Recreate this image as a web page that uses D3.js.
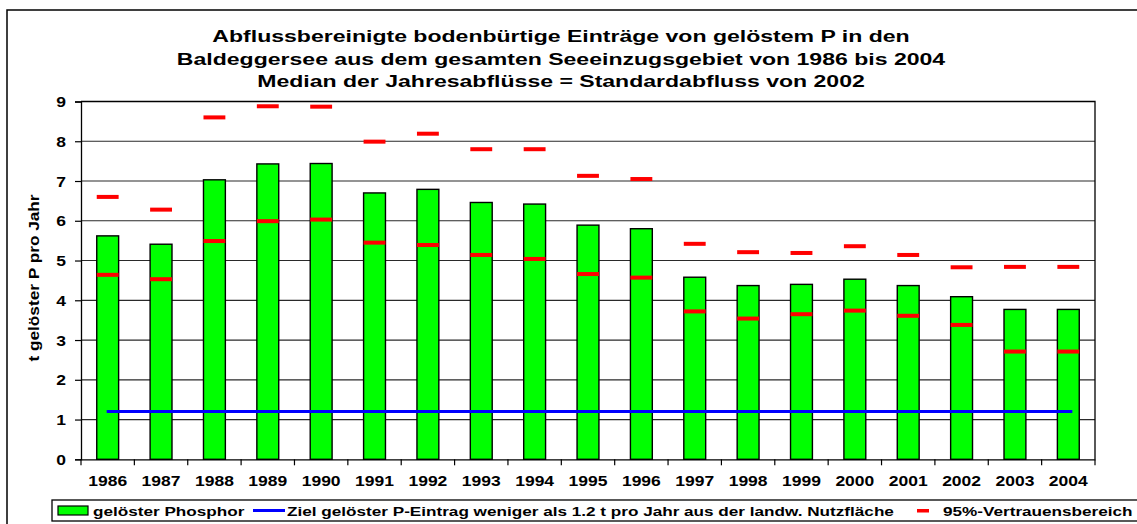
<!DOCTYPE html>
<html lang="de">
<head>
<meta charset="UTF-8">
<title>Baldeggersee - gelöster P</title>
<script src="https://d3js.org/d3.v7.min.js"></script>
<style>
    body { margin: 0; background: #fff; }
    svg { display: block; font-family: "Liberation Sans", Arial, sans-serif; font-weight: bold; }
</style>
</head>
<body>
<svg id="chart" width="1137" height="524"></svg>
<script>
// --- data ---
const years = ["1986","1987","1988","1989","1990","1991","1992","1993","1994","1995",
               "1996","1997","1998","1999","2000","2001","2002","2003","2004"];
const phosphor = [5.62,5.41,7.03,7.43,7.44,6.70,6.79,6.46,6.42,5.89,5.80,4.58,4.37,4.40,4.53,4.37,4.09,3.77,3.77];
const upper95 = [6.60,6.28,8.60,8.88,8.87,7.99,8.19,7.80,7.80,7.13,7.05,5.42,5.21,5.19,5.36,5.14,4.83,4.84,4.84];
const lower95 = [4.64,4.53,5.49,5.99,6.03,5.45,5.39,5.14,5.04,4.66,4.57,3.72,3.54,3.65,3.74,3.61,3.38,2.71,2.71];
const targetValue = 1.2;
const yTicks = [0,1,2,3,4,5,6,7,8,9];
const titleLines = [
    "Abflussbereinigte bodenbürtige Einträge von gelöstem P in den",
    "Baldeggersee aus dem gesamten Seeeinzugsgebiet von 1986 bis 2004",
    "Median der Jahresabflüsse = Standardabfluss von 2002"
];
const yLabel = "t gelöster P pro Jahr";
const legendLabels = ["gelöster Phosphor",
    "Ziel gelöster P-Eintrag weniger als 1.2 t pro Jahr aus der landw. Nutzfläche",
    "95%-Vertrauensbereich"];

const svg = d3.select("#chart");
const SX = 1.25; // the original text is stretched horizontally

// outer frame
svg.append("rect").attr("x", 7).attr("y", 10).attr("width", 1140).attr("height", 530)
    .attr("fill", "none").attr("stroke", "#000").attr("stroke-width", 1.5);

const plot = { left: 81, right: 1095, top: 101.5, bottom: 459.3 };
const x = d3.scaleBand().domain(years).range([plot.left, plot.right]).padding(0);
const y = d3.scaleLinear().domain([0, 9]).range([plot.bottom, plot.top]);
const barW = x.bandwidth() * 0.41;
const cx = d => x(d) + x.bandwidth() / 2;

function stretched(sel, px, py, sx) {
    return sel.attr("transform", `translate(${px},${py}) scale(${sx || SX},1)`);
}

// title
const title = svg.append("g");
titleLines.forEach((t, i) => {
    stretched(title.append("text"), 561, 41.7 + i * 22.8, 1.34)
        .attr("text-anchor", "middle").attr("font-size", 17.2).text(t);
});

// grid lines
svg.append("g").selectAll("line").data(yTicks.filter(v => v > 0 && v < 9)).join("line")
    .attr("x1", plot.left).attr("x2", plot.right)
    .attr("y1", d => y(d)).attr("y2", d => y(d))
    .attr("stroke", "#2a2a2a").attr("stroke-width", 1.2);

// plot frame top and right
svg.append("path")
    .attr("d", `M${plot.left},${plot.top}H${plot.right}V${plot.bottom}`)
    .attr("fill", "none").attr("stroke", "#000").attr("stroke-width", 1.3);

// y axis
const yAxis = svg.append("g").attr("transform", `translate(${plot.left},0)`)
    .call(d3.axisLeft(y).tickValues(yTicks).tickSize(6).tickFormat(d3.format("d")));
yAxis.select(".domain").attr("stroke", "#000").attr("stroke-width", 1.3);
yAxis.selectAll(".tick line").attr("stroke", "#000").attr("stroke-width", 1.2);
yAxis.selectAll(".tick text")
    .attr("x", null).attr("dy", null)
    .attr("font-size", 14).attr("font-family", "Liberation Sans, Arial, sans-serif")
    .attr("font-weight", "bold").attr("fill", "#000")
    .attr("transform", `translate(-15,5.2) scale(${SX},1)`);

// x axis
const xAxis = svg.append("g").attr("transform", `translate(0,${plot.bottom})`)
    .call(d3.axisBottom(x).tickSize(0).tickPadding(0));
xAxis.select(".domain").attr("stroke", "#000").attr("stroke-width", 1.3);
xAxis.selectAll(".tick text")
    .attr("y", null).attr("dy", null)
    .attr("font-size", 14).attr("font-family", "Liberation Sans, Arial, sans-serif")
    .attr("font-weight", "bold").attr("fill", "#000")
    .attr("transform", `translate(0,26.5) scale(${SX},1)`);
// tick marks on category boundaries
svg.append("g").selectAll("line").data(years.concat(["end"])).join("line")
    .attr("x1", (d, i) => plot.left + i * x.step()).attr("x2", (d, i) => plot.left + i * x.step())
    .attr("y1", plot.bottom).attr("y2", plot.bottom + 6)
    .attr("stroke", "#000").attr("stroke-width", 1.2);

// bars
svg.append("g").selectAll("rect").data(phosphor).join("rect")
    .attr("x", (d, i) => cx(years[i]) - barW / 2)
    .attr("y", d => y(d))
    .attr("width", barW)
    .attr("height", d => plot.bottom - y(d))
    .attr("fill", "#00ff00").attr("stroke", "#000").attr("stroke-width", 1.4);

// target line
svg.append("line")
    .attr("x1", cx(years[0]) - 1).attr("x2", cx(years[years.length - 1]) + 4)
    .attr("y1", y(targetValue)).attr("y2", y(targetValue))
    .attr("stroke", "#0000ff").attr("stroke-width", 3);

// confidence markers
const ci = upper95.map((u, i) => ({ i, v: u })).concat(lower95.map((l, i) => ({ i, v: l })));
svg.append("g").selectAll("rect").data(ci).join("rect")
    .attr("x", d => cx(years[d.i]) - barW / 2)
    .attr("y", d => y(d.v) - 2)
    .attr("width", barW).attr("height", 4)
    .attr("fill", "#ff0000");

// y label
svg.append("text")
    .attr("font-size", 14).attr("text-anchor", "middle")
    .attr("transform", `translate(39,278) rotate(-90) scale(1.23,1)`)
    .text(yLabel);

// legend
const LX = 1.27;
const lg = svg.append("g");
lg.append("rect").attr("x", 52).attr("y", 500).attr("width", 1100).attr("height", 21)
    .attr("fill", "#fff").attr("stroke", "#000").attr("stroke-width", 1.3);
lg.append("rect").attr("x", 58).attr("y", 506).attr("width", 30).attr("height", 9)
    .attr("fill", "#00ff00").attr("stroke", "#000").attr("stroke-width", 1.2);
stretched(lg.append("text"), 93, 515.5, LX).attr("font-size", 13.5).text(legendLabels[0]);
lg.append("line").attr("x1", 253).attr("x2", 285).attr("y1", 510.5).attr("y2", 510.5)
    .attr("stroke", "#0000ff").attr("stroke-width", 3);
stretched(lg.append("text"), 287, 515.5, LX).attr("font-size", 13.5).text(legendLabels[1]);
lg.append("rect").attr("x", 917).attr("y", 509).attr("width", 12).attr("height", 3.5)
    .attr("fill", "#ff0000");
stretched(lg.append("text"), 943, 515.5, LX).attr("font-size", 13.5).text(legendLabels[2]);
</script>
</body>
</html>
